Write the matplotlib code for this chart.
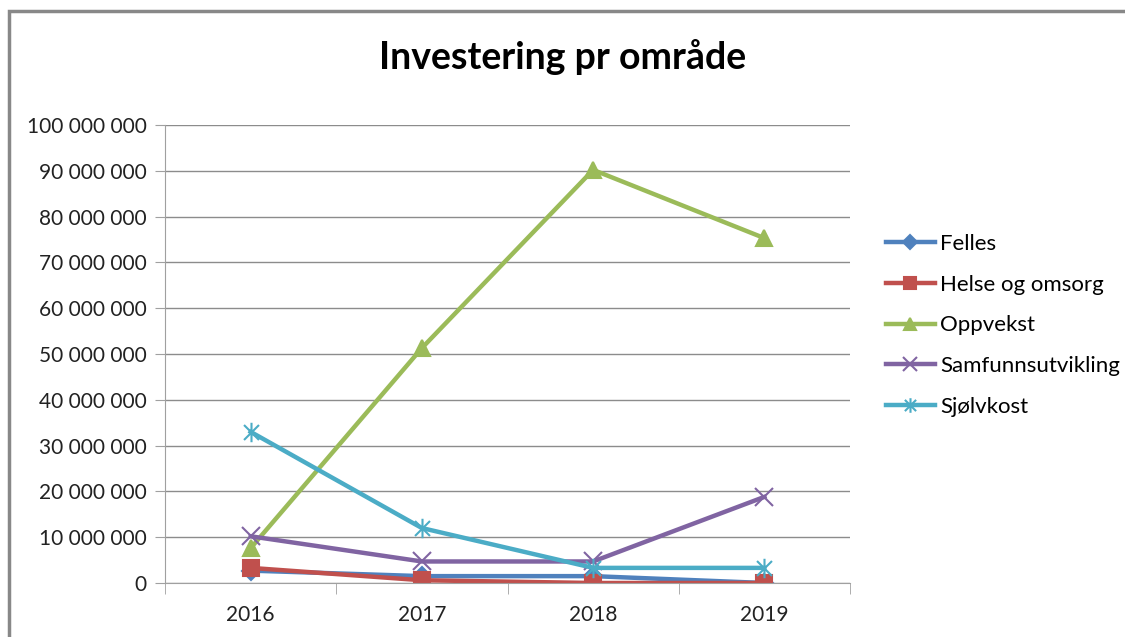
import matplotlib.pyplot as plt
from matplotlib.patches import Rectangle
from matplotlib.path import Path
from matplotlib.ticker import FuncFormatter

years = ['2016', '2017', '2018', '2019']
felles = [2700000, 1500000, 1500000, 0]
helse_og_omsorg = [3300000, 600000, 0, 0]
oppvekst = [7600000, 51300000, 90200000, 75300000]
samfunnsutvikling = [10200000, 4700000, 4700000, 18800000]
sjolvkost = [33000000, 12000000, 3300000, 3300000]

# excel-style asterisk marker: an x with a vertical bar
asterisk = Path([(-1, -1), (1, 1), (-1, 1), (1, -1), (0, -1.3), (0, 1.3)],
                [Path.MOVETO, Path.LINETO, Path.MOVETO, Path.LINETO, Path.MOVETO, Path.LINETO])

series = [
    ('Felles', felles, '#4F81BD', 'D', 9),
    ('Helse og omsorg', helse_og_omsorg, '#C0504D', 's', 11),
    ('Oppvekst', oppvekst, '#9BBB59', '^', 12),
    ('Samfunnsutvikling', samfunnsutvikling, '#8064A2', 'x', 13),
    ('Sjølvkost', sjolvkost, '#4BACC6', asterisk, 14),
]

plt.rcParams['font.family'] = ['Lato', 'DejaVu Sans']

fig = plt.figure(figsize=(11.25, 6.37), dpi=100)
# chart border (only top and left visible in the crop)
fig.patches.append(Rectangle((9 / 1125, -0.1), 1.2, 1 - 11 / 637 + 0.1,
                             transform=fig.transFigure, fill=False,
                             edgecolor='#888888', linewidth=2.5))

ax = fig.add_axes([165 / 1125, 54 / 637, 685 / 1125, 458 / 637])

x = range(len(years))
for name, vals, color, marker, ms in series:
    ax.plot(x, vals, color=color, linewidth=3.2, marker=marker, markersize=ms,
            markeredgewidth=1.5, markeredgecolor=color, label=name)

ax.set_xlim(-0.5, 3.5)
ax.set_ylim(0, 100000000)
ax.set_yticks(range(0, 100000001, 10000000))
ax.yaxis.set_major_formatter(FuncFormatter(lambda v, p: f'{int(v):,}'.replace(',', ' ')))
ax.set_xticks(list(x))
ax.set_xticklabels(years)
ax.set_xticks([-0.5, 0.5, 1.5, 2.5, 3.5], minor=True)
ax.tick_params(axis='x', which='major', length=0, pad=16, labelsize=15, labelcolor='#222222')
ax.tick_params(axis='x', which='minor', length=8, color='#A0A0A0')
ax.tick_params(axis='y', length=7, color='#A0A0A0', pad=6, labelsize=15, labelcolor='#222222')
ax.grid(axis='y', color='#8C8C8C', linewidth=1)
ax.set_axisbelow(True)
for s in ['top', 'right']:
    ax.spines[s].set_visible(False)
ax.spines['left'].set_color('#A0A0A0')
ax.spines['bottom'].set_color('#A0A0A0')

fig.text(0.5, 1 - 57 / 637, 'Investering pr område', ha='center', va='center',
         fontsize=27, fontweight='bold')

ax.legend(loc='upper left', bbox_to_anchor=(866 / 1125, 1 - 214 / 637), bbox_transform=fig.transFigure,
          frameon=False, fontsize=16, labelspacing=0.93, handlelength=2.2, handletextpad=0.25,
          markerscale=0.75)

fig.savefig('out.png', dpi=100)
